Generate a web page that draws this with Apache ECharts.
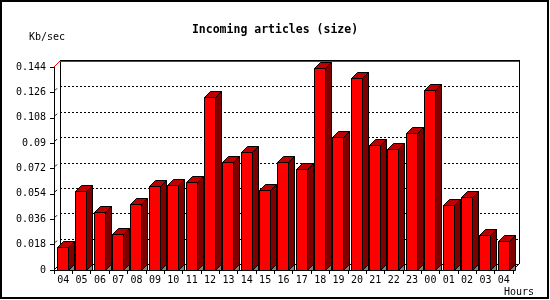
<!DOCTYPE html>
<html>
<head>
<meta charset="utf-8">
<script src="https://cdn.jsdelivr.net/npm/echarts@6/dist/echarts.min.js"></script>
<style>html,body{margin:0;padding:0;background:#fff;}#c{width:550px;height:300px;}</style>
</head>
<body>
<div id="c"></div>
<script>
const categories = ['04','05','06','07','08','09','10','11','12','13','14','15','16','17','18','19','20','21','22','23','00','01','02','03','04'];
const values = [0.016,0.0558,0.041,0.0253,0.0466,0.0594,0.0601,0.0622,0.1229,0.0764,0.0835,0.0565,0.0764,0.0714,0.1431,0.0941,0.136,0.0886,0.0856,0.097,0.1277,0.0459,0.0516,0.0246,0.0204];
const yTicks = [0,0.018,0.036,0.054,0.072,0.09,0.108,0.126,0.144];

const D = 6;
const FONT = 'DejaVu Sans Mono';
const chart = echarts.init(document.getElementById('c'), null, {renderer:'canvas'});

function r(v){ return Math.round(v) + 0.5; }

const option = {
  animation: false,
  backgroundColor: '#fff',
  title: {
    text: 'Incoming articles (size)',
    left: 'center', top: 19,
    textStyle: {fontFamily: FONT, fontWeight: 'bold', fontSize: 11.5, color: '#000'}
  },
  grid: {left: 54, top: 67, width: 459, height: 203},
  xAxis: {
    type: 'category',
    data: categories,
    boundaryGap: true,
    axisLine: {show: true, lineStyle: {color: '#000', width: 1}},
    axisTick: {show: true, length: 4, lineStyle: {color: '#000'}, alignWithLabel: false},
    axisLabel: {fontFamily: FONT, fontSize: 10, color: '#000', margin: 5, interval: 0},
    splitLine: {show: false}
  },
  yAxis: {
    type: 'value',
    min: 0, max: 0.144, interval: 0.018,
    axisLine: {show: true, lineStyle: {color: '#000', width: 1}},
    axisTick: {show: true, length: 4, lineStyle: {color: '#000'}},
    axisLabel: {fontFamily: FONT, fontSize: 10, color: '#000', margin: 8,
      formatter: function(v){ return String(+v.toFixed(4)); }},
    splitLine: {show: false}
  },
  graphic: [
    {type: 'rect', shape: {x: 1, y: 1, width: 547, height: 297}, style: {fill: 'none', stroke: '#000', lineWidth: 2}, z: 100},
    {type: 'text', left: 29, top: 32, style: {text: 'Kb/sec', fontFamily: FONT, fontSize: 10, fill: '#000'}},
    {type: 'text', left: 504, top: 287, style: {text: 'Hours', fontFamily: FONT, fontSize: 10, fill: '#000'}}
  ],
  series: [
    {
      type: 'custom', name: 'grid', z: 1,
      data: yTicks.map(function(v){ return [0, v]; }),
      renderItem: function(params, api){
        const cs = params.coordSys;
        const L = cs.x, R = cs.x + cs.width;
        const v = api.value(1);
        const y = api.coord([0, v])[1];
        const yy = r(y - D);
        const children = [];
        if (v > 0 && v < 0.144) {
          children.push({type: 'line', shape: {x1: L + D, y1: yy, x2: R + D, y2: yy},
            style: {stroke: '#000', lineWidth: 1, lineDash: [2, 2]}});
          children.push({type: 'line', shape: {x1: L + 1, y1: y - 2, x2: L + 3, y2: y - 4},
            style: {stroke: '#000', lineWidth: 1}});
        }
        return {type: 'group', children: children};
      }
    },
    {
      type: 'custom', name: 'frame', z: 2,
      data: [[0, 0]],
      renderItem: function(params, api){
        const cs = params.coordSys;
        const L = cs.x, T = cs.y, R = cs.x + cs.width, B = cs.y + cs.height;
        return {type: 'group', children: [
          {type: 'line', shape: {x1: r(L + D), y1: T - D, x2: r(L + D), y2: B - D}, style: {stroke: '#000', lineWidth: 1}},
          {type: 'line', shape: {x1: r(R + D), y1: T - D - 1, x2: r(R + D), y2: B - D}, style: {stroke: '#000', lineWidth: 1}},
          {type: 'line', shape: {x1: L + D, y1: r(T - D - 1), x2: R + D, y2: r(T - D - 1)}, style: {stroke: '#000', lineWidth: 1}},
          {type: 'line', shape: {x1: L + D, y1: r(T - D), x2: R + D, y2: r(T - D)}, style: {stroke: '#ff0000', lineWidth: 1}},
          {type: 'line', shape: {x1: L, y1: T, x2: L + D, y2: T - D}, style: {stroke: '#ff0000', lineWidth: 1}},
          {type: 'line', shape: {x1: L, y1: B, x2: L + D, y2: B - D}, style: {stroke: '#000', lineWidth: 1}},
          {type: 'line', shape: {x1: R, y1: B, x2: R + D, y2: B - D}, style: {stroke: '#000', lineWidth: 1}},
          {type: 'line', shape: {x1: L + D, y1: r(B - D), x2: R + D, y2: r(B - D)}, style: {stroke: '#000', lineWidth: 1}}
        ]};
      }
    },
    {
      type: 'custom', name: 'size', z: 3,
      data: values.map(function(v, i){ return [i, v]; }),
      renderItem: function(params, api){
        const i = api.value(0), v = api.value(1);
        const c = api.coord([i, v]);
        const b = api.coord([i, 0]);
        const band = api.size([1, 0])[0];
        const x0 = Math.round(c[0] - band / 2 + 3) + 0.5;
        const w = 11;
        const yT = Math.round(c[1]) + 0.5;
        const yB = Math.round(b[1]) + 0.5;
        const x1 = x0 + w;
        return {type: 'group', children: [
          {type: 'polygon', shape: {points: [[x1, yB], [x1 + D, yB - D], [x1 + D, yB]]},
            style: {fill: '#808080', stroke: '#000', lineWidth: 1}},
          {type: 'polygon', shape: {points: [[x1, yT], [x1 + D, yT - D], [x1 + D, yB - D], [x1, yB]]},
            style: {fill: '#800000', stroke: '#000', lineWidth: 1}},
          {type: 'polygon', shape: {points: [[x0, yT], [x0 + D, yT - D], [x1 + D, yT - D], [x1, yT]]},
            style: {fill: '#c00000', stroke: '#000', lineWidth: 1}},
          {type: 'rect', shape: {x: x0, y: yT, width: w, height: yB - yT},
            style: {fill: '#ff0000', stroke: '#000', lineWidth: 1}}
        ]};
      }
    }
  ]
};
chart.setOption(option);
</script>
</body>
</html>
